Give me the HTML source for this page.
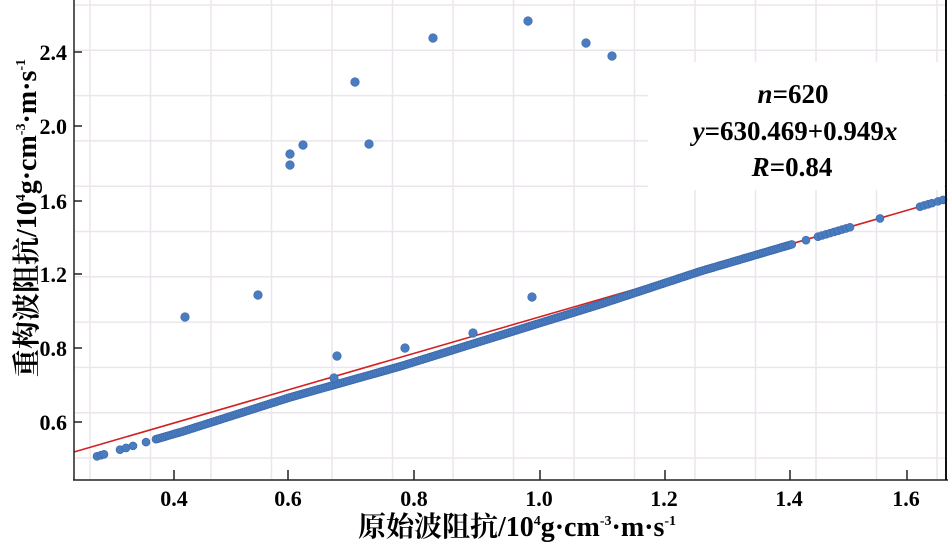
<!DOCTYPE html>
<html><head><meta charset="utf-8"><style>
html,body{margin:0;padding:0;background:#fff;width:950px;height:546px;overflow:hidden}
svg{display:block}
</style></head><body>
<svg id="s" width="950" height="546" xmlns="http://www.w3.org/2000/svg" font-family="Liberation Serif, Noto Serif CJK SC, serif">
<g id="grid" stroke="#ebe6eb" stroke-width="1.5"></g>
<rect x="648" y="62" width="296" height="128" fill="#fff"/>
<line x1="74" y1="452" x2="946" y2="199" stroke="#d42020" stroke-width="1.6"/>
<g id="dots" fill="#4a7cc0" stroke="#3a66a8" stroke-width="0.6"></g>
<line x1="74" y1="0" x2="74" y2="480" stroke="#222" stroke-width="1.5"/>
<line x1="73" y1="480" x2="948" y2="480" stroke="#222" stroke-width="1.5"/>
<line x1="946" y1="0" x2="946" y2="480" stroke="#111" stroke-width="2"/>
<g id="ticks" stroke="#222" stroke-width="1.5"></g>
<g font-size="22" font-weight="bold" fill="#000" text-anchor="end">
<text x="67" y="60">2.4</text><text x="67" y="134">2.0</text><text x="67" y="209">1.6</text>
<text x="67" y="282">1.2</text><text x="67" y="356">0.8</text><text x="67" y="430">0.6</text>
</g>
<g font-size="22" font-weight="bold" fill="#000" text-anchor="middle">
<text x="174" y="506">0.4</text><text x="288" y="506">0.6</text><text x="414" y="506">0.8</text>
<text x="539" y="506">1.0</text><text x="664" y="506">1.2</text><text x="789" y="506">1.4</text><text x="906" y="506">1.6</text>
</g>
<text x="517" y="536" font-size="28" font-weight="bold" text-anchor="middle">原始波阻抗/10<tspan font-size="14" dy="-11">4</tspan><tspan dy="11">g·cm</tspan><tspan font-size="14" dy="-11">-3</tspan><tspan dy="11">·m·s</tspan><tspan font-size="14" dy="-11">-1</tspan></text>
<text transform="translate(36,218) rotate(-90)" font-size="28" font-weight="bold" text-anchor="middle">重构波阻抗/10<tspan font-size="14" dy="-11">4</tspan><tspan dy="11">g·cm</tspan><tspan font-size="14" dy="-11">-3</tspan><tspan dy="11">·m·s</tspan><tspan font-size="14" dy="-11">-1</tspan></text>
<g font-size="27" font-weight="bold" text-anchor="middle">
<text x="793" y="103"><tspan font-style="italic">n</tspan>=620</text>
<text x="795" y="140"><tspan font-style="italic">y</tspan>=630.469+0.949<tspan font-style="italic">x</tspan></text>
<text x="792" y="176"><tspan font-style="italic">R</tspan>=0.84</text>
</g>
</svg>
<script>
var ns="http://www.w3.org/2000/svg";
function el(p,t,a){var e=document.createElementNS(ns,t);for(var k in a)e.setAttribute(k,a[k]);document.getElementById(p).appendChild(e);}
for(var x=90;x<946;x+=60.5)el("grid","line",{x1:x,y1:0,x2:x,y2:479});
for(var y=458;y>0;y-=45.3)el("grid","line",{x1:75,y1:y,x2:945,y2:y});
[174,288,414,540,665,790,907].forEach(function(x){el("ticks","line",{x1:x,y1:470,x2:x,y2:480});});
[52,126,201,274,348,422].forEach(function(y){el("ticks","line",{x1:74,y1:y,x2:82,y2:y});});
function red(x){return 452-253*(x-74)/872;}
var off=[[90,11],[182,11],[290,8],[400,9],[600,5],[700,1],[950,0]];
function yat(x){for(var i=0;i<off.length-1;i++){if(x<=off[i+1][0]){var a=off[i],b=off[i+1];return red(x)+a[1]+(b[1]-a[1])*(x-a[0])/(b[0]-a[0]);}}return red(x);}
var xs=[97,101,104,120,126,133,146];
for(var x=156;x<792;x+=2.2)xs.push(x);
[806,818,822,826,830,834,838,842,846,850,880,920,924,928,932,938,943].forEach(function(v){xs.push(v)});
xs.forEach(function(x){el("dots","circle",{cx:x,cy:yat(x),r:4});});
[[185,317],[258,295],[290,165],[290,154],[303,145],[337,356],[334,378],[355,82],[369,144],[405,348],[433,38],[473,333],[528,21],[532,297],[586,43],[612,56]].forEach(function(p){el("dots","circle",{cx:p[0],cy:p[1],r:4.3});});
</script>
</body></html>
